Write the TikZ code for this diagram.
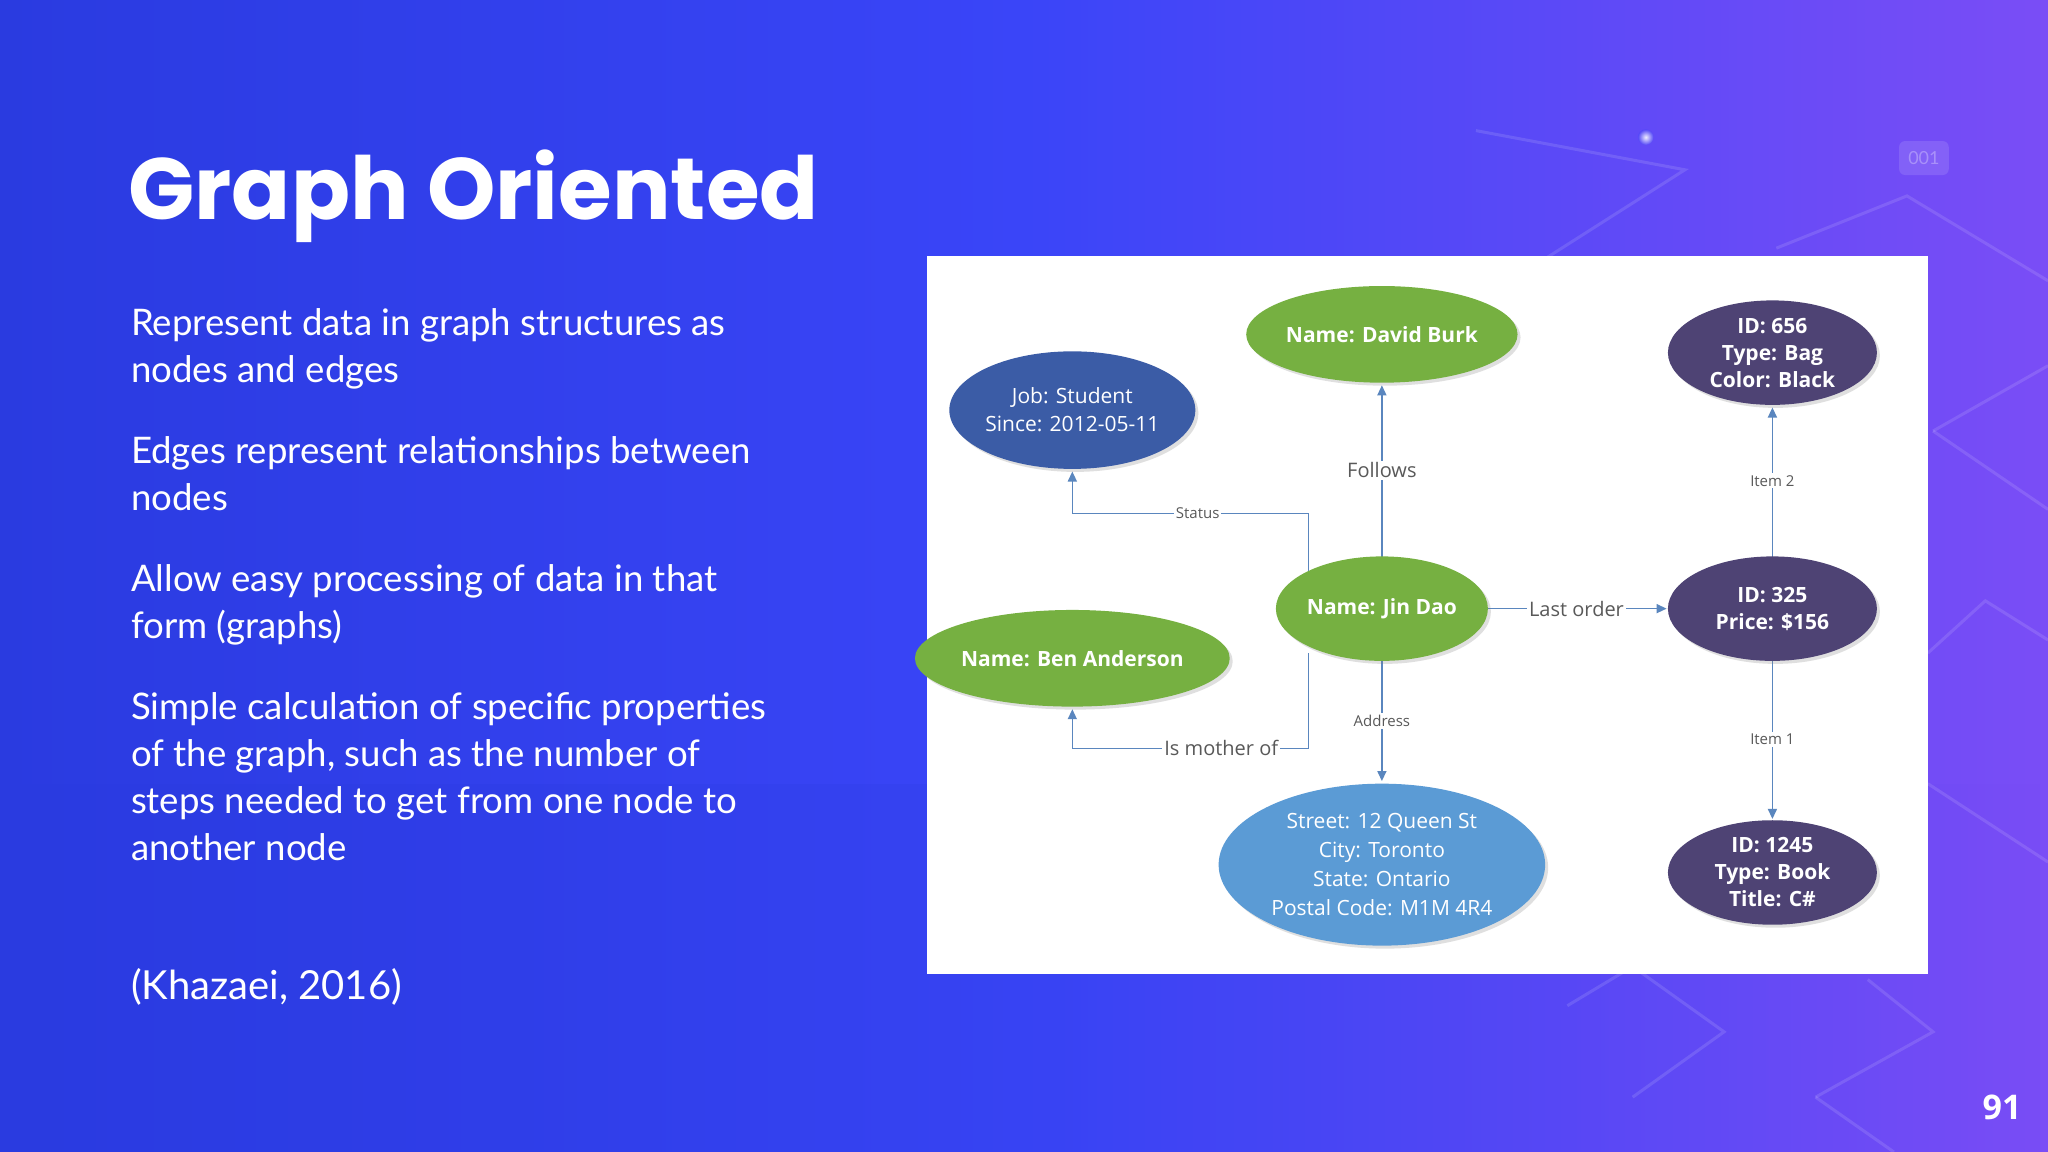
\documentclass[tikz,border=0pt]{standalone}
\usepackage{fontspec}
\setmainfont{Lato}
\newfontfamily\titlefont{Poppins}
\newfontfamily\nodefont{Open Sans}
\usetikzlibrary{shadows,arrows.meta,shapes.geometric,fadings}
\definecolor{bgA}{HTML}{2A3BE0}
\definecolor{bgB}{HTML}{3A45F8}
\definecolor{bgC}{HTML}{7A4DF6}
\definecolor{grn}{HTML}{76B041}
\definecolor{dblue}{HTML}{3B5CA6}
\definecolor{purp}{HTML}{4E4374}
\definecolor{lblue}{HTML}{5B9BD5}
\definecolor{edge}{HTML}{5A86BE}
\definecolor{lbl}{HTML}{595959}
\tikzset{
  ell/.style={ellipse, text=white, font=\nodefont\fontsize{10.5}{13.5}\selectfont\bfseries, align=center, inner sep=0pt, drop shadow={opacity=0.25, shadow xshift=1.5pt, shadow yshift=-1.5pt}},
  sz/.style 2 args={minimum width=#1*0.653pt, minimum height=#2*0.653pt},
  conn/.style={draw=edge, line width=0.7pt, -{Triangle[length=5pt,width=4.5pt]}},
  biglbl/.style={fill=white, text=lbl, font=\nodefont\fontsize{10}{12}\selectfont, inner sep=1pt},
  smlbl/.style={fill=white, text=lbl, font=\nodefont\fontsize{7.5}{9}\selectfont, inner sep=1pt},
  body/.style={anchor=base west, text=white, font=\fontsize{18.3}{23}\selectfont, inner sep=0pt},
  deco/.style={draw=white, opacity=0.12, line width=1.5pt}
}
\begin{document}
\begin{tikzpicture}[x=0.653pt,y=-0.653pt]
\useasboundingbox (0,0) rectangle (1568,882);
\shade[left color=bgA, right color=bgC, middle color=bgB] (0,0) rectangle (1568,882);
\fill[bgA, opacity=0.35, path fading=east] (0,600) rectangle (1568,882);
% faint decorations
\draw[deco] (1130,100) -- (1290,130) -- (1180,200);
\draw[deco] (1360,190) -- (1460,150) -- (1568,215);
\draw[deco] (1480,330) -- (1568,280);
\draw[deco] (1480,330) -- (1568,390);
\draw[deco] (1476,500) -- (1520,460) -- (1568,490);
\draw[deco] (1476,600) -- (1568,660);
\draw[deco] (1200,770) -- (1250,740) -- (1320,790) -- (1250,840);
\draw[deco] (1390,840) -- (1480,790) -- (1430,750);
\draw[deco] (1390,840) -- (1450,882);
\fill[white, opacity=0.12, rounded corners=3pt] (1454,108) rectangle (1492,134);
\node[text=white, opacity=0.3, font=\fontsize{9}{10}\selectfont] (n001) at (1473,121) {001};
\shade[inner color=white, outer color=bgB!60!bgC, opacity=0.9] (1260,105) circle (6);
% title and text
\node[anchor=base west, text=white, inner sep=0pt, font=\titlefont\fontsize{43.5}{52}\selectfont\bfseries] (title) at (98,168) {Graph Oriented};
\node[body] (l1) at (100,257) {Represent data in graph structures as};
\node[body] (l2) at (100,293) {nodes and edges};
\node[body] (l3) at (100,355) {Edges represent relationships between};
\node[body] (l4) at (100,391) {nodes};
\node[body] (l5) at (100,453) {Allow easy processing of data in that};
\node[body] (l6) at (100,489) {form (graphs)};
\node[body] (l7) at (100,551) {Simple calculation of specific properties};
\node[body] (l8) at (100,587) {of the graph, such as the number of};
\node[body] (l9) at (100,623) {steps needed to get from one node to};
\node[body] (l10) at (100,659) {another node};
\node[body, font=\fontsize{20}{24}\selectfont] (cite) at (100,765) {(Khazaei, 2016)};
\node[anchor=base east, text=white, inner sep=0pt, font=\nodefont\fontsize{17}{20}\selectfont\bfseries] (pg) at (1548,857) {91};
% panel
\fill[white] (710,196) rectangle (1476,746);
% connectors (drawn first, under nodes)
\coordinate (jinA) at (1002,440);
\coordinate (jinB) at (1002,500);
\coordinate (jinT) at (1058,440);
\coordinate (jinBot) at (1058,500);
\coordinate (jinR) at (1120,466);
\coordinate (s1) at (1002,393);
\coordinate (m1) at (1002,573);
\draw[conn] (jinA) -- (s1) -| (821,361);
\node[smlbl] (ls) at (917,393) {Status};
\draw[conn] (jinB) -- (m1) -| (821,543);
\node[biglbl] (lm) at (935,573) {Is mother of};
\draw[conn] (jinT) -- (1058,295);
\node[biglbl] (lf) at (1058,360) {Follows};
\draw[conn] (jinBot) -- (1058,598);
\node[smlbl] (la) at (1058,552) {Address};
\draw[conn] (jinR) -- (1276,466);
\node[biglbl] (lo) at (1207,466) {Last order};
\draw[conn] (1357,440) -- (1357,312);
\node[smlbl] (l2i) at (1357,368) {Item 2};
\draw[conn] (1357,490) -- (1357,627);
\node[smlbl] (l1i) at (1357,566) {Item 1};
% nodes
\node[ell, fill=dblue, sz={180}{90}, font=\nodefont\fontsize{10.5}{14}\selectfont] (job) at (821,314) {Job: Student\\Since: 2012-05-11};
\node[ell, fill=grn, sz={180}{74}] (david) at (1058,256) {Name: David Burk};
\node[ell, fill=purp, sz={160}{80}] (i656) at (1357,270) {ID: 656\\Type: Bag\\Color: Black};
\node[ell, fill=grn, sz={160}{80}] (jin) at (1058,466) {Name: Jin Dao};
\node[ell, fill=purp, sz={160}{80}] (i325) at (1357,466) {ID: 325\\Price: \$156};
\node[ell, fill=grn, sz={182}{74}] (ben) at (821,504) {Name: Ben Anderson};
\node[ell, fill=lblue, sz={250}{124}, font=\nodefont\fontsize{10.5}{14.5}\selectfont] (street) at (1058,662) {Street: 12 Queen St\\City: Toronto\\State: Ontario\\Postal Code: M1M 4R4};
\node[ell, fill=purp, sz={160}{80}] (i1245) at (1357,668) {ID: 1245\\Type: Book\\Title: C\#};
\end{tikzpicture}
\end{document}
